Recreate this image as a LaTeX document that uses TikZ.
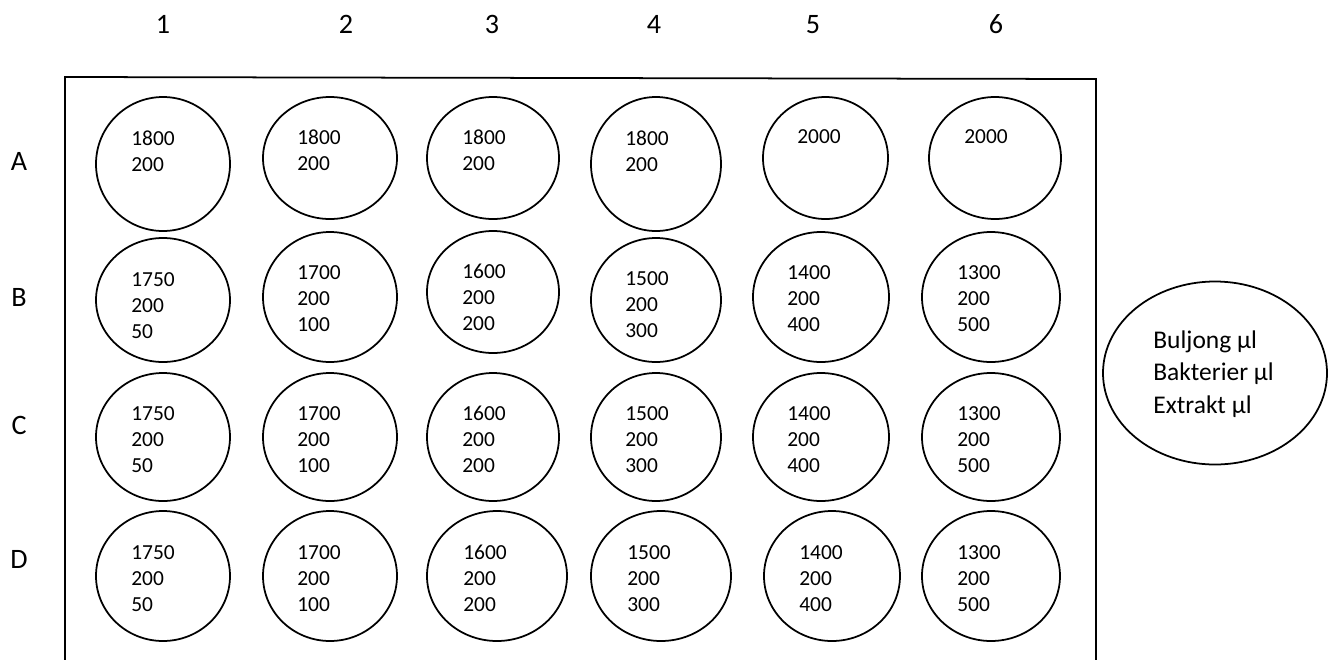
\documentclass[tikz,border=0pt]{standalone}
\usepackage{fontspec}
\setmainfont{Carlito}
\usetikzlibrary{shapes.geometric}
\begin{document}
\begin{tikzpicture}[
  well/.style={draw,ellipse,line width=1pt,inner sep=0pt},
  vol/.style={anchor=north west,align=left,inner sep=0pt,
    font=\fontsize{12.2}{14.8}\selectfont},
  lbl/.style={inner sep=0pt,font=\fontsize{16}{19}\selectfont}]
  \useasboundingbox (0,0) rectangle (26.66,-13.18);
  % plate
  \draw[line width=1pt] (1.30,-13.4) -- (1.30,-1.54) -- (21.92,-1.58) -- (21.92,-13.4);
  % column and row labels
  \foreach \c/\x in {1/3.26,2/6.92,3/9.84,4/13.08,5/16.26,6/19.92}
    \node[lbl] (c\c) at (\x,-0.49) {\c};
  \foreach \r/\y in {A/-3.22,B/-5.94,C/-8.50,D/-11.18}
    \node[lbl] (r\r) at (0.38,\y) {\r};
  % wells: name/x/y/width/height/text x/text y/volumes
  \foreach \n/\x/\y/\w/\h/\tx/\ty/\txt in {
    A1/3.26/-3.28/2.68/2.68/2.62/-2.60/{1800\\200},
    A2/6.60/-3.16/2.68/2.44/5.94/-2.58/{1800\\200},
    A3/9.86/-3.16/2.64/2.44/9.24/-2.58/{1800\\200},
    A4/13.12/-3.28/2.60/2.68/12.50/-2.60/{1800\\200},
    A5/16.51/-3.16/2.50/2.44/15.94/-2.58/{2000},
    A6/19.90/-3.16/2.64/2.44/19.28/-2.58/{2000},
    B1/3.26/-6.00/2.68/2.48/2.62/-5.44/{1750\\200\\50},
    B2/6.60/-5.94/2.68/2.60/5.94/-5.30/{1700\\200\\100},
    B3/9.86/-5.84/2.64/2.44/9.24/-5.28/{1600\\200\\200},
    B4/13.12/-6.00/2.60/2.48/12.50/-5.42/{1500\\200\\300},
    B5/16.42/-5.94/2.72/2.60/15.74/-5.30/{1400\\200\\400},
    B6/19.82/-5.94/2.76/2.60/19.14/-5.30/{1300\\200\\500},
    C1/3.26/-8.74/2.68/2.56/2.62/-8.12/{1750\\200\\50},
    C2/6.60/-8.74/2.68/2.56/5.94/-8.12/{1700\\200\\100},
    C3/9.86/-8.74/2.64/2.56/9.24/-8.12/{1600\\200\\200},
    C4/13.12/-8.74/2.60/2.56/12.50/-8.12/{1500\\200\\300},
    C5/16.42/-8.74/2.72/2.56/15.74/-8.12/{1400\\200\\400},
    C6/19.82/-8.74/2.76/2.56/19.14/-8.12/{1300\\200\\500},
    D1/3.26/-11.52/2.68/2.60/2.62/-10.90/{1750\\200\\50},
    D2/6.60/-11.52/2.68/2.60/5.94/-10.90/{1700\\200\\100},
    D3/9.94/-11.52/2.80/2.60/9.26/-10.90/{1600\\200\\200},
    D4/13.22/-11.52/2.80/2.60/12.54/-10.90/{1500\\200\\300},
    D5/16.64/-11.52/2.72/2.60/15.98/-10.90/{1400\\200\\400},
    D6/19.82/-11.52/2.76/2.60/19.14/-10.90/{1300\\200\\500}} {
    \node[well,minimum width=\w cm,minimum height=\h cm] (w\n) at (\x,\y) {};
    \node[vol] (t\n) at (\tx,\ty) {\txt};
  }
  % legend
  \node[well,minimum width=4.48cm,minimum height=3.66cm] (leg) at (24.30,-7.46) {};
  \node[vol,font=\fontsize{14.5}{18.7}\selectfont] (legtxt) at (23.06,-6.60)
    {Buljong µl\\Bakterier µl\\Extrakt µl};
\end{tikzpicture}
\end{document}
